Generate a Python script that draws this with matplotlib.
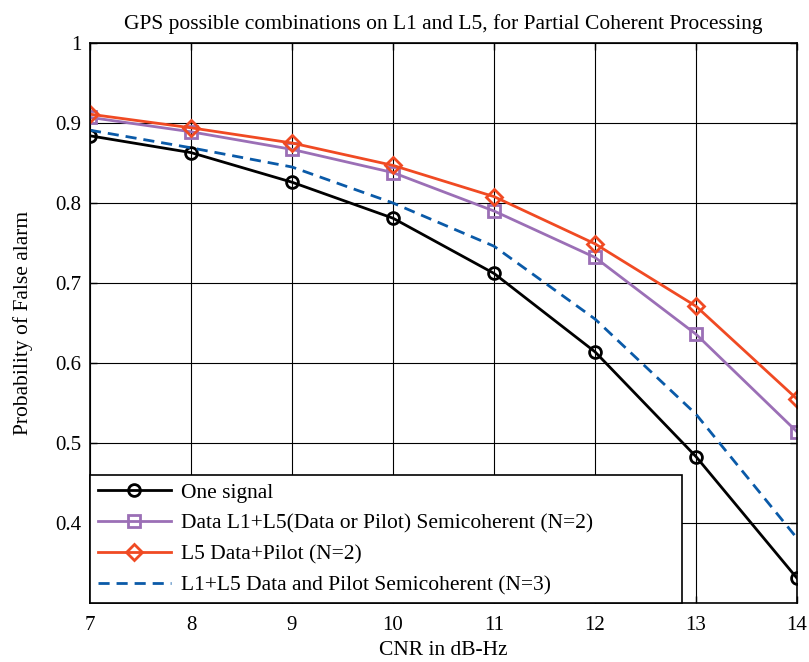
import matplotlib
matplotlib.use('Agg')
import matplotlib.pyplot as plt

cnr = [7, 8, 9, 10, 11, 12, 13, 14]
one_signal = [0.884, 0.863, 0.826, 0.781, 0.712, 0.614, 0.483, 0.331]
data_l1l5 = [0.907, 0.889, 0.867, 0.838, 0.790, 0.732, 0.636, 0.514]
l5_data_pilot = [0.911, 0.894, 0.875, 0.847, 0.808, 0.749, 0.671, 0.555]
l1l5_semi = [0.891, 0.869, 0.845, 0.800, 0.746, 0.655, 0.536, 0.381]

labels = ['One signal',
          'Data L1+L5(Data or Pilot) Semicoherent (N=2)',
          'L5 Data+Pilot (N=2)',
          'L1+L5 Data and Pilot Semicoherent (N=3)']
yticks = [0.4, 0.5, 0.6, 0.7, 0.8, 0.9, 1]

plt.rcParams['font.family'] = ['Liberation Serif', 'DejaVu Serif']

fig = plt.figure(figsize=(8.09, 6.62), dpi=100)
ax = fig.add_axes([90 / 809, 59 / 662, 707 / 809, 560 / 662])

ax.plot(cnr, one_signal, color='black', lw=2, marker='o', ms=8.5, mfc='none', mew=2, label=labels[0])
ax.plot(cnr, data_l1l5, color='#9b6fb6', lw=2, marker='s', ms=8.5, mfc='none', mew=2, label=labels[1])
ax.plot(cnr, l5_data_pilot, color='#f04a23', lw=2, marker='D', ms=8, mfc='none', mew=2, label=labels[2])
ax.plot(cnr, l1l5_semi, color='#0a5aa8', lw=2, ls='--', dashes=(4, 2.5), label=labels[3])

ax.set_xlim(7, 14)
ax.set_ylim(0.3, 1)
ax.set_xticks(cnr)
ax.set_yticks(yticks)
ax.set_yticklabels(['0.4', '0.5', '0.6', '0.7', '0.8', '0.9', '1'])
ax.grid(True, color='black', lw=0.8)
ax.tick_params(labelsize=15, direction='in', length=5, width=1, top=True, right=True)
ax.tick_params(axis='x', pad=9)
ax.tick_params(axis='y', pad=6)
for s in ax.spines.values():
    s.set_linewidth(1.2)

ax.set_title('GPS possible combinations on L1 and L5, for Partial Coherent Processing', fontsize=15.5, pad=10)
ax.set_xlabel('CNR in dB-Hz', fontsize=15.5, labelpad=5)
ax.set_ylabel('Probability of False alarm', fontsize=15.5, labelpad=16)

leg = ax.legend(loc='lower left', fontsize=15.5, fancybox=False, framealpha=1, edgecolor='black',
                bbox_to_anchor=(0, 0, 592 / 707, 0.2), mode='expand',
                borderaxespad=0, handlelength=3.4, handletextpad=0.5,
                labelspacing=0.5, borderpad=0.35)
leg.get_frame().set_linewidth(1.2)

fig.savefig('out.png', dpi=100)
